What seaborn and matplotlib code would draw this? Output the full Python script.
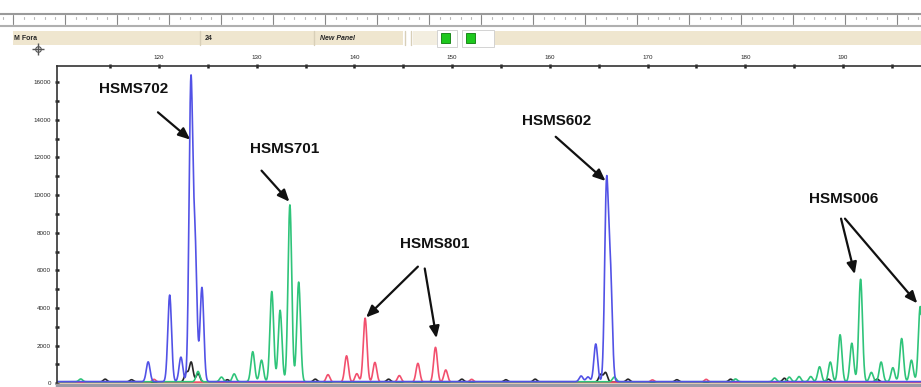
"""Electropherogram of four SSR markers (HSMS loci), redrawn with seaborn."""

import matplotlib
matplotlib.use('Agg')
import matplotlib.pyplot as plt
from matplotlib.lines import Line2D
from matplotlib.patches import Rectangle
import numpy as np
import pandas as pd
import seaborn as sns

# Peak positions (bp) and heights (RFU), one list per dye.
blue_pos = [118.9, 121.1, 122.25, 123.27, 123.7, 124.4, 164.7, 165.8, 166.2,
            163.2, 163.9]
blue_height = [1050, 4600, 1300, 15700, 7000, 5000, 2000, 10250, 5500,
               300, 250]

green_pos = [112.0, 124.0, 126.4, 127.7, 129.6, 130.5, 131.55, 132.4, 133.4,
             134.3, 166.6, 179.0, 183.0, 184.5, 185.5, 186.7, 187.6, 188.7,
             189.7, 190.9, 191.8, 192.9, 193.9, 195.1, 196.0, 197.0, 197.9]
green_height = [150, 550, 250, 420, 1600, 1150, 4800, 3800, 9400,
                5300, 250, 150, 200, 250, 280, 280, 800, 1050,
                2500, 2050, 5450, 500, 1050, 750, 2300, 1150, 4000]

red_pos = [119.5, 137.3, 139.2, 140.25, 141.1, 142.1, 144.6, 146.5, 148.3,
           149.35, 152.0, 170.5, 176.0]
red_height = [150, 400, 1400, 450, 3400, 1050, 350, 1000, 1850,
              650, 150, 120, 150]

black_pos = [114.5, 117.2, 122.8, 123.3, 124.0, 127.0, 136.0, 143.5, 151.0,
             155.5, 158.5, 165.2, 165.7, 168.0, 173.0, 178.5, 184.0, 188.5,
             193.5]
black_height = [150, 120, 500, 1050, 450, 120, 150, 150, 150,
                120, 150, 400, 500, 150, 120, 150, 200, 150,
                150]

dye_names = ['orange', 'black', 'red', 'green', 'blue']
dye_colors = {'orange': '#f0a040', 'black': '#262626', 'red': '#f2506e',
              'green': '#2fc47a', 'blue': '#5252e6'}
dye_baseline = {'orange': 40, 'black': 70, 'red': 60, 'green': 80, 'blue': 90}

# annotation labels: text position and arrow targets (bp, RFU)
label_text = ['HSMS702', 'HSMS701', 'HSMS801', 'HSMS602', 'HSMS006']
label_pos = [(117.4, 15650), (132.9, 12450), (148.2, 7400), (160.7, 13950),
             (190.1, 9800)]
arrow_start = [[(119.9, 14400)], [(130.5, 11300)],
               [(146.5, 6200), (147.2, 6100)], [(160.6, 13100)],
               [(189.8, 8750), (190.2, 8750)]]
arrow_end = [[(123.2, 12950)], [(133.35, 9650)],
             [(141.2, 3500), (148.4, 2400)], [(165.7, 10750)],
             [(191.2, 5800), (197.6, 4250)]]

x_ticks = [120, 130, 140, 150, 160, 170, 180, 190]
y_ticks = [0, 2000, 4000, 6000, 8000, 10000, 12000, 14000, 16000]

PEAK_SIGMA = 0.19
W, H = 921, 387


def trace(xs, positions, heights, base):
  """Sum of gaussian peaks on a flat baseline."""
  ys = np.full_like(xs, base, dtype=float)
  for p, h in zip(positions, heights):
    ys += h * np.exp(-0.5 * ((xs - p) / PEAK_SIGMA) ** 2)
  return ys


def fx(px):
  return px / W


def fy(py):
  return 1 - py / H


xs = np.linspace(109.4, 198.6, 6000)
peaks = {'orange': ([], []), 'black': (black_pos, black_height),
         'red': (red_pos, red_height), 'green': (green_pos, green_height),
         'blue': (blue_pos, blue_height)}
frames = []
for dye in dye_names:
  pos, hgt = peaks[dye]
  frames.append(pd.DataFrame({'size': xs, 'rfu': trace(xs, pos, hgt,
                                                       dye_baseline[dye]),
                              'dye': dye}))
df = pd.concat(frames, ignore_index=True)

sns.set_style('white')
plt.rcParams['font.family'] = ['Liberation Sans', 'DejaVu Sans']

fig = plt.figure(figsize=(W / 100, H / 100), dpi=100)
ax = fig.add_axes([fx(57), fy(385), fx(921 - 57), (385 - 66) / H])

sns.lineplot(data=df, x='size', y='rfu', hue='dye', hue_order=dye_names,
             palette=dye_colors, sort=False, legend=False, linewidth=1.2,
             estimator=None, ax=ax)

ax.set_xlim(109.57, 197.98)
ax.set_ylim(-90, 16860)
ax.set_xlabel('')
ax.set_ylabel('')

ax.xaxis.tick_top()
ax.set_xticks(x_ticks)
ax.set_xticks(np.arange(115, 200, 5), minor=True)
ax.set_yticks(y_ticks)
ax.set_yticks(np.arange(1000, 17000, 2000), minor=True)
ax.tick_params(axis='both', which='both', direction='inout', length=3,
               width=1.8, color='#222222', labelsize=4.5, pad=3)
ax.tick_params(axis='x', which='both', top=True, bottom=False)
ax.tick_params(axis='y', which='both', left=True)

for side in ['top', 'left']:
  ax.spines[side].set_color('#333333')
  ax.spines[side].set_linewidth(1.2)
ax.spines['right'].set_visible(False)
ax.spines['bottom'].set_color('#9a9aa6')
ax.spines['bottom'].set_linewidth(2.5)

for name, tpos, starts, ends in zip(label_text, label_pos, arrow_start,
                                    arrow_end):
  ax.text(tpos[0], tpos[1], name, fontsize=11, fontweight='bold',
          ha='center', va='center', color='#111111')
  for s, e in zip(starts, ends):
    ax.annotate('', xy=e, xytext=s,
                arrowprops=dict(arrowstyle='-|>,head_length=0.7,head_width=0.3',
                                color='#111111', lw=1.6, shrinkA=0,
                                shrinkB=0))

# window chrome above the plot: ruler strip and the panel bar
fig.add_artist(Line2D([0, 1], [fy(14), fy(14)], color='#9a9a9a', lw=1.5))
fig.add_artist(Line2D([0, 1], [fy(25.5), fy(25.5)], color='#b0b0b0', lw=1.5))
for px in np.arange(3, W, 10.4):
  fig.add_artist(Line2D([fx(px), fx(px)], [fy(17), fy(19)], color='#b8b8b8',
                        lw=0.8))
for px in np.arange(13, W, 52):
  fig.add_artist(Line2D([fx(px), fx(px)], [fy(15), fy(24)], color='#888888',
                        lw=0.8))
fig.add_artist(Rectangle((fx(13), fy(45)), fx(403 - 13), 14 / H,
                         facecolor='#efe6cf', edgecolor='none'))
fig.add_artist(Rectangle((fx(413), fy(45)), fx(24), 14 / H,
                         facecolor='#f3eee0', edgecolor='none'))
fig.add_artist(Rectangle((fx(494), fy(45)), fx(W - 494), 14 / H,
                         facecolor='#efe6cf', edgecolor='none'))
for px in [200, 314, 405, 411]:
  fig.add_artist(Line2D([fx(px), fx(px)], [fy(45), fy(31)], color='#d8cfb8',
                        lw=1))
for bx, bw in [(437, 20), (462, 32)]:
  fig.add_artist(Rectangle((fx(bx), fy(47)), fx(bw), 17 / H,
                           facecolor='white', edgecolor='#cccccc', lw=0.6))
  fig.add_artist(Rectangle((fx(bx + 4), fy(43)), fx(9), 10 / H,
                           facecolor='#1ec81e', edgecolor='#0a7a0a', lw=0.6))
fig.text(fx(14), fy(38), 'M Fora', fontsize=5, fontweight='bold', va='center')
fig.text(fx(205), fy(38), '24', fontsize=5, fontweight='bold', va='center')
fig.text(fx(320), fy(38), 'New Panel', fontsize=5, fontweight='bold',
         style='italic', va='center')
fig.add_artist(Line2D([fx(38)], [fy(49)], marker='+', markersize=9,
                      color='#555555', mew=1))
fig.add_artist(Line2D([fx(38)], [fy(49)], marker='o', markersize=4,
                      markerfacecolor='none', color='#555555', mew=0.8))

fig.savefig('out.png', dpi=100)
